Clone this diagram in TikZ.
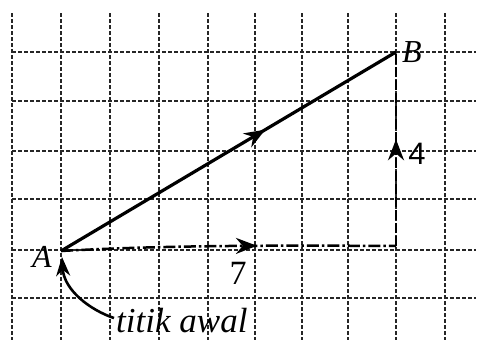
\documentclass[tikz,border=0pt]{standalone}
\usepackage{fontspec}
\setmainfont{Liberation Serif}
\newfontfamily\sansf{Liberation Sans}
\usetikzlibrary{arrows.meta,decorations.markings}
\tikzset{
  gridline/.style={line width=1.4pt, dash pattern=on 3.5pt off 2.5pt, black!85},
  vecline/.style={line width=3.2pt},
  compline/.style={line width=2.5pt},
  tip/.style={-{Stealth[length=19pt,width=14pt]}},
  midarrow/.style={postaction={decorate},decoration={markings,
     mark=at position #1 with {\arrow{Stealth[length=21pt,width=16pt]}}}},
  lbl/.style={inner sep=0pt, font=\fontsize{32}{34}\selectfont\itshape},
  num/.style={inner sep=0pt, font=\fontsize{34}{36}\selectfont},
}
\begin{document}
\begin{tikzpicture}[x=1pt,y=-1pt]
\useasboundingbox (0,0) rectangle (479,340);
% grid
\foreach \x in {12,61,110,159,208,255,302,348,396,445}
  \draw[gridline] (\x,13) -- (\x,340);
\foreach \y in {52,101,151,199,250,298}
  \draw[gridline] (12,\y) -- (476,\y);
% points
\coordinate (A) at (61,251);
\coordinate (B) at (396,52);
\coordinate (C) at (396,246);
\coordinate (Atip) at (62,257);
% components
\draw[compline, dash pattern=on 12pt off 3pt on 2.5pt off 3pt, midarrow=0.585]
  (A) .. controls (150,246) and (250,245) .. (C);
\draw[compline, dash pattern=on 10pt off 3pt, midarrow=0.55] (C) -- (B);
% vector
\draw[vecline, midarrow=0.61] (A) -- (B);
% labels
\node[lbl] (la) at (42,257) {A};
\node[lbl] (lb) at (412,52) {B};
\node[num] (n7) at (238,273) {7};
\node[num, font=\fontsize{31}{33}\sansf] (n4) at (417,154) {4};
\node[inner sep=0pt, anchor=base west, font=\fontsize{35}{37}\selectfont\itshape] (tw) at (116,332) {titik awal};
\draw[line width=2.6pt, tip] ([xshift=-2pt,yshift=2pt]tw.west) .. controls (90,310) and (64,290) .. (Atip);
\end{tikzpicture}
\end{document}
